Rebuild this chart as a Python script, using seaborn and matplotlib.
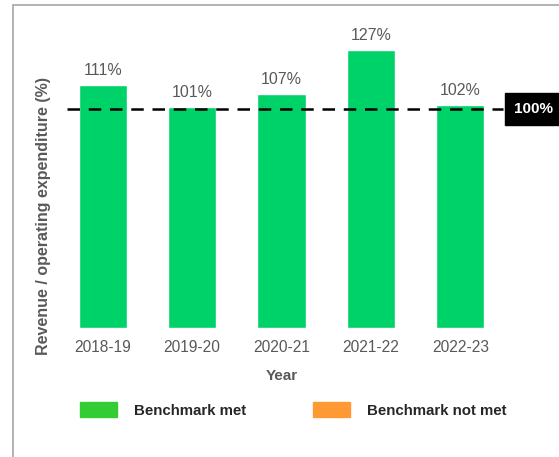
import matplotlib
matplotlib.use("Agg")
import matplotlib.pyplot as plt
import matplotlib.patches as mpatches
import seaborn as sns
import pandas as pd

# data
years = ["2018-19", "2019-20", "2020-21", "2021-22", "2022-23"]
ratios = [111, 101, 107, 127, 102]
benchmark = 100
legend_labels = ["Benchmark met", "Benchmark not met"]

bar_green = "#00D26A"
met_green = "#33CC33"
not_met_orange = "#FF9933"
grey_text = "#595959"

sns.set_theme(style="white")
plt.rcParams["font.family"] = ["Liberation Sans", "DejaVu Sans"]

df = pd.DataFrame({"Year": years, "ratio": ratios})

fig = plt.figure(figsize=(5.59, 4.57), dpi=100)
ax = fig.add_axes([58 / 559, 1 - 328 / 457, 447 / 559, 303 / 457])

sns.barplot(data=df, x="Year", y="ratio", color=bar_green, width=0.54,
            saturation=1, ax=ax)

# value labels on top of bars
for i, v in enumerate(ratios):
    ax.annotate(f"{v}%", (i, v), xytext=(0, 5), textcoords="offset points",
                ha="center", va="bottom", fontsize=11.5, color=grey_text)

# benchmark line and tag
ax.axhline(benchmark, xmin=0.02, xmax=0.995, color="black", lw=1.8,
           dashes=(5, 3.5), clip_on=False)
ax.text(1.02, benchmark, "100%", transform=ax.get_yaxis_transform(),
        ha="left", va="center", fontsize=11, fontweight="bold", color="white",
        bbox=dict(boxstyle="square,pad=0.6", fc="black", ec="black"), clip_on=False)

ax.set_xlim(-0.5, 4.5)
ax.set_ylim(0, 138.5)
ax.set_yticks([])
for s in ax.spines.values():
    s.set_visible(False)
ax.tick_params(axis="x", length=0, pad=9, labelsize=11.2, labelcolor=grey_text)
ax.set_xlabel("Year", fontsize=11, fontweight="bold", color=grey_text, labelpad=10)
ax.set_ylabel("Revenue / operating expenditure (%)", fontsize=11.5, fontweight="bold",
              color=grey_text)
ax.yaxis.set_label_coords(-0.015, 0.37)

# legend below the chart
handles = [mpatches.Patch(color=met_green), mpatches.Patch(color=not_met_orange)]
fig.legend(handles, legend_labels, loc="center left", bbox_to_anchor=(80 / 559, 1 - 410 / 457),
           ncol=2, frameon=False, borderpad=0, borderaxespad=0, handlelength=2.47,
           handleheight=1.07, handletextpad=1.13, columnspacing=4.45,
           prop={"weight": "bold", "size": 10.8}, labelcolor="#262626")

# grey outer frame, cut off at right and bottom as in the reference
fig.patches.append(mpatches.Rectangle((13 / 559, -0.1), 1.2, 1 - 5 / 457 + 0.1,
                                      transform=fig.transFigure, fill=False,
                                      ec="#A6A6A6", lw=1.2))

fig.savefig("out.png", dpi=100)
